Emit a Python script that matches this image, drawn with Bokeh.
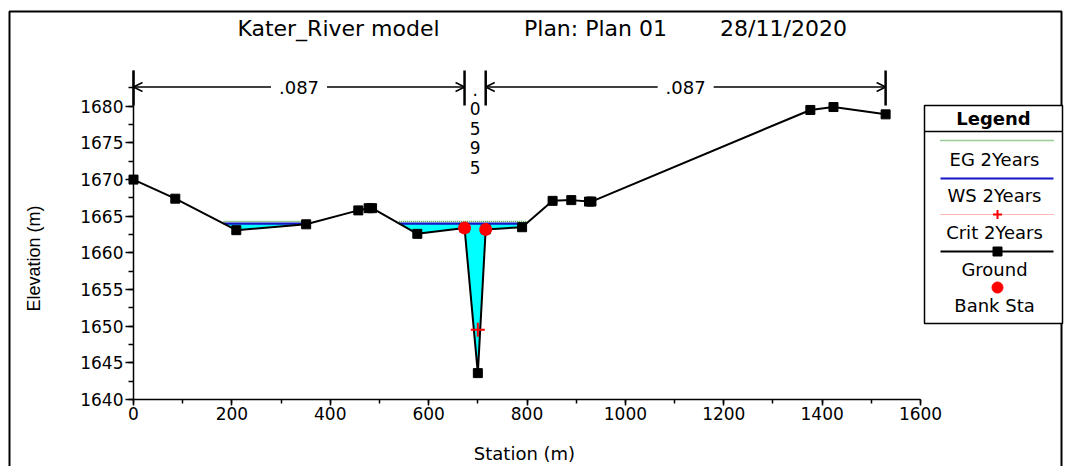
import math

from bokeh.plotting import figure
from bokeh.models import Range1d, SingleIntervalTicker, Arrow, OpenHead
from bokeh.core.properties import value
from bokeh.embed import file_html
from bokeh.resources import INLINE

# ---- cross-section data -------------------------------------------------
station = [0, 85, 209, 351, 457, 478, 485, 577, 673, 700, 716, 790,
           852, 890, 926, 931, 1376, 1423, 1529]
elevation = [1670.0, 1667.4, 1663.1, 1663.9, 1665.8, 1666.1, 1666.1, 1662.6,
             1663.4, 1643.6, 1663.2, 1663.5, 1667.1, 1667.2, 1667.0, 1667.0,
             1679.5, 1679.9, 1678.9]
bank_station = [673, 716]
bank_elevation = [1663.4, 1663.2]
ws_2years = 1664.0
eg_2years = 1664.3
crit_station = [700]
crit_2years = [1649.5]
mannings_breaks = [0, 673, 716, 1529]
mannings_n = [".087", ".0595", ".087"]
title_parts = ["Kater_River model", "Plan: Plan 01", "28/11/2020"]
legend_labels = ["EG 2Years", "WS 2Years", "Crit 2Years", "Ground", "Bank Sta"]
x_title = "Station (m)"
y_title = "Elevation (m)"

# ---- page geometry ------------------------------------------------------
W, H = 1065, 466
AX0, AY0 = 133, 399          # pixel position of station 0 / elevation 1640
KX, KY = 0.4919, 7.33        # px per metre (station, elevation)
X0, Y0 = 0, 1640


def sx(px):
    return X0 + (px - AX0) / KX


def sy(py):
    return Y0 + (AY0 - py) / KY


FONT = value("DejaVu Sans")

# the plotting frame covers the whole page; the axes sit at fixed data locations
p = figure(width=W, height=H,
           x_range=Range1d(sx(0), sx(W)), y_range=Range1d(sy(H), sy(0)),
           output_backend="svg", toolbar_location=None, min_border=0)
p.grid.visible = False
p.outline_line_color = None
p.background_fill_color = "white"
p.border_fill_color = "white"


# ---- wetted area below the water surface ---------------------------------
def wet_areas(xs, zs, wsel):
    polys, cur = [], None
    for i in range(len(xs) - 1):
        x1, z1, x2, z2 = xs[i], zs[i], xs[i + 1], zs[i + 1]
        if z1 < wsel:
            if cur is None:
                cur = [(x1, wsel)]
            cur.append((x1, z1))
        if (z1 - wsel) * (z2 - wsel) < 0:
            xc = x1 + (wsel - z1) * (x2 - x1) / (z2 - z1)
            if z1 >= wsel:
                cur = [(xc, wsel)]
            else:
                cur.append((xc, wsel))
                polys.append(cur)
                cur = None
    return polys


wet = wet_areas(station, elevation, ws_2years)
p.patches([[q[0] for q in poly] for poly in wet],
          [[q[1] for q in poly] for poly in wet],
          fill_color="#00FFFF", line_color=None)
extent_x = [[poly[0][0], poly[-1][0]] for poly in wet]
p.multi_line(extent_x, [[eg_2years, eg_2years] for _ in wet],
             line_color="#2E9E2E", line_width=1.5, line_dash="1 1")
p.multi_line(extent_x, [[ws_2years, ws_2years] for _ in wet],
             line_color="#1515C8", line_width=2.2)

# ground profile
p.line(station, elevation, line_color="black", line_width=2)
p.scatter(station, elevation, marker="square", size=9, color="black")
p.scatter(bank_station, bank_elevation, marker="circle", size=12, color="red")
p.scatter(crit_station, crit_2years, marker="cross", size=14,
          line_color="red", line_width=2)

# ---- Manning's n dimension lines ------------------------------------------
bar_top, bar_bot, arrow_y = sy(70), sy(105), sy(86.5)
p.segment(mannings_breaks, [bar_top] * 4, mannings_breaks, [bar_bot] * 4,
          line_color="black", line_width=2.5)
gap = 28 / KX
spans = [(mannings_breaks[0], mannings_breaks[1], mannings_n[0]),
         (mannings_breaks[2], mannings_breaks[3], mannings_n[2])]
for a, b, lab in spans:
    mid = (a + b) / 2
    for start, end in ((mid - gap, a), (mid + gap, b)):
        p.add_layout(Arrow(end=OpenHead(size=9, line_width=1.5, line_color="black"),
                           x_start=start, y_start=arrow_y, x_end=end, y_end=arrow_y,
                           line_width=1.5, line_color="black"))
    p.text([mid], [arrow_y], text=[lab], text_align="center", text_baseline="middle",
           text_font=FONT, text_font_size="18px", text_color="black")

mid_n = (mannings_breaks[1] + mannings_breaks[2]) / 2
chars = list(mannings_n[1])
p.text([mid_n] * len(chars), [sy(88.5 + 19.5 * i) for i in range(len(chars))],
       text=chars, text_align="center", text_baseline="middle",
       text_font=FONT, text_font_size="17px", text_color="black")

# ---- title ---------------------------------------------------------------
p.text([sx(338), sx(595), sx(783)], [sy(28)] * 3, text=title_parts,
       text_align="center", text_baseline="middle", text_font=FONT,
       text_font_size="22px", text_color="black")

# ---- page border -----------------------------------------------------------
bl, br, bt, bb = sx(9), sx(1061), sy(11), sy(H + 10)
p.multi_line([[bl, bl, br, br]], [[bb, bt, bt, bb]], line_color="black", line_width=2)

# ---- legend box ----------------------------------------------------------
p.quad(left=[sx(924)], right=[sx(1062)], top=[sy(105)], bottom=[sy(323)],
       fill_color="white", line_color="black", line_width=1.5)
p.segment([sx(924)], [sy(131)], [sx(1062)], [sy(131)], line_color="black", line_width=1.5)
p.text([sx(993)], [sy(118)], text=["Legend"], text_align="center", text_baseline="middle",
       text_font=FONT, text_font_size="18px", text_font_style="bold", text_color="black")
lx0, lx1, lxc = sx(940), sx(1053), sx(997)
p.line([lx0, lx1], [sy(140)] * 2, line_color="#2E9E2E", line_width=1.5, line_dash="1 1")
p.line([lx0, lx1], [sy(178)] * 2, line_color="#1515C8", line_width=2.2)
p.line([lx0, lx1], [sy(214)] * 2, line_color="#FF7070", line_width=1, line_dash="1 1")
p.scatter([lxc], [sy(214)], marker="cross", size=9, line_color="red", line_width=2)
p.line([lx0, lx1], [sy(251)] * 2, line_color="black", line_width=2)
p.scatter([lxc], [sy(251)], marker="square", size=9, color="black")
p.scatter([lxc], [sy(287)], marker="circle", size=11, color="red")
p.text([sx(994)] * 5, [sy(v) for v in (159, 195, 232, 269, 305)], text=legend_labels,
       text_align="center", text_baseline="middle", text_font=FONT,
       text_font_size="18px", text_color="black")

# ---- axes ----------------------------------------------------------------
xa, ya = p.xaxis[0], p.yaxis[0]
xa.fixed_location = Y0
ya.fixed_location = X0
xa.ticker = SingleIntervalTicker(interval=200, num_minor_ticks=2)
xa.bounds = (0, 1600)
ya.ticker = SingleIntervalTicker(interval=5, num_minor_ticks=2)
ya.bounds = (Y0, bar_top)
for ax in (xa, ya):
    ax.axis_line_color = "black"
    ax.axis_line_width = 1.5
    ax.major_tick_line_color = "black"
    ax.minor_tick_line_color = "black"
    ax.major_tick_line_width = 1.5
    ax.minor_tick_line_width = 1.5
    ax.major_tick_in = 0
    ax.minor_tick_in = 0
    ax.major_label_text_font = "DejaVu Sans"
    ax.major_label_text_font_size = "17px"
    ax.major_label_text_color = "black"
xa.major_tick_out, xa.minor_tick_out = 6, 4
ya.major_tick_out, ya.minor_tick_out = 8, 5
xa.major_label_standoff = 1
ya.major_label_standoff = 2

# axis titles
p.text([sx(524)], [sy(453)], text=[x_title], text_align="center", text_baseline="middle",
       text_font=FONT, text_font_size="18px", text_color="black")
p.text([sx(33)], [sy(258)], text=[y_title], angle=math.pi / 2,
       text_align="center", text_baseline="middle",
       text_font=value("Liberation Sans"), text_font_size="18px", text_color="black")

open("out.html", "w").write(file_html(p, INLINE))
